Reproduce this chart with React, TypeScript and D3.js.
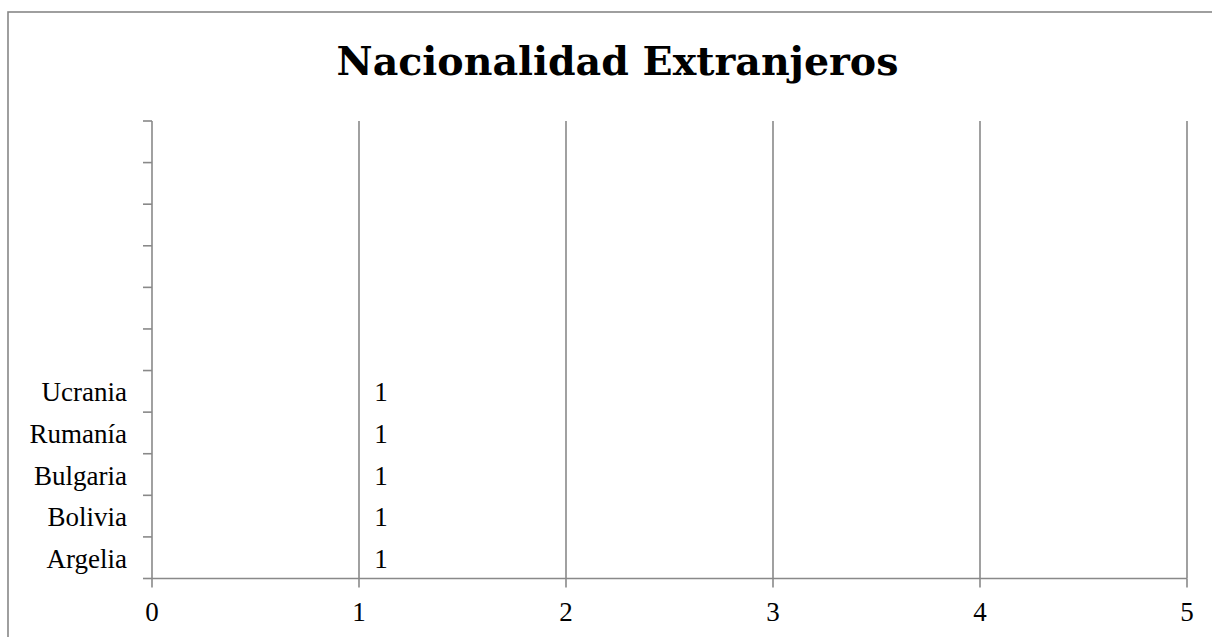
import React from "react";
import * as d3 from "d3";

const categories = ["Argelia", "Bolivia", "Bulgaria", "Rumanía", "Ucrania", " 1", " 2", " 3", " 4", " 5", " 6"];
const values: (number | null)[] = [1, 1, 1, 1, 1, null, null, null, null, null, null];
const xTicks = [0, 1, 2, 3, 4, 5];
const title = "Nacionalidad Extranjeros";

export default function App() {
  const W = 1212, H = 637;
  const left = 152, right = 1187, top = 121, bottom = 578.5;
  const x = d3.scaleLinear().domain([0, 5]).range([left, right]);
  const y = d3.scaleBand<string>().domain([...categories].reverse()).range([top, bottom]).paddingInner(0).paddingOuter(0);
  const gray = "#898989";
  const sw = 1.6;
  const bandTicks = d3.range(categories.length + 1).map(i => top + i * y.step());
  const serif = "'Liberation Serif', serif";
  return (
    <svg width={W} height={H} style={{ position: "absolute", left: 0, top: 0, background: "#fff" }}>
      <rect x={8} y={12} width={1230} height={700} fill="#fff" stroke="#878787" strokeWidth={1.6} />
      <text x={617.5} y={75} textAnchor="middle" fontFamily="'DejaVu Serif', serif" fontWeight="bold" fontSize={39.5} fill="#000">{title}</text>
      {xTicks.filter(t => t > 0).map(t => (
        <line key={"g" + t} x1={x(t)} x2={x(t)} y1={top} y2={bottom} stroke={gray} strokeWidth={sw} />
      ))}
      <line x1={left} x2={left} y1={top} y2={bottom} stroke={gray} strokeWidth={sw} />
      {bandTicks.map((t, i) => (
        <line key={"yt" + i} x1={left - 9} x2={left} y1={t} y2={t} stroke={gray} strokeWidth={sw} />
      ))}
      <line x1={left} x2={right} y1={bottom} y2={bottom} stroke={gray} strokeWidth={sw} />
      {xTicks.map(t => (
        <g key={"xt" + t}>
          <line x1={x(t)} x2={x(t)} y1={bottom} y2={bottom + 9} stroke={gray} strokeWidth={sw} />
          <text x={x(t)} y={621} textAnchor="middle" fontFamily={serif} fontSize={27} fill="#000">{t}</text>
        </g>
      ))}
      {categories.map(c => (
        <text key={"c" + c} x={127} y={(y(c) as number) + y.bandwidth() / 2 + 10} textAnchor="end" fontFamily={serif} fontSize={27} fill="#000">{c.trim().match(/^\d+$/) ? "" : c}</text>
      ))}
      {categories.map((c, i) => values[i] == null ? null : (
        <g key={"b" + c}>
          <rect x={x(0)} y={(y(c) as number) + y.bandwidth() * 0.2} width={x(values[i] as number) - x(0)} height={y.bandwidth() * 0.6} fill="none" stroke="none" />
          <text x={x(values[i] as number) + 22} y={(y(c) as number) + y.bandwidth() / 2 + 10} textAnchor="middle" fontFamily={serif} fontSize={27} fill="#000">{values[i]}</text>
        </g>
      ))}
    </svg>
  );
}
